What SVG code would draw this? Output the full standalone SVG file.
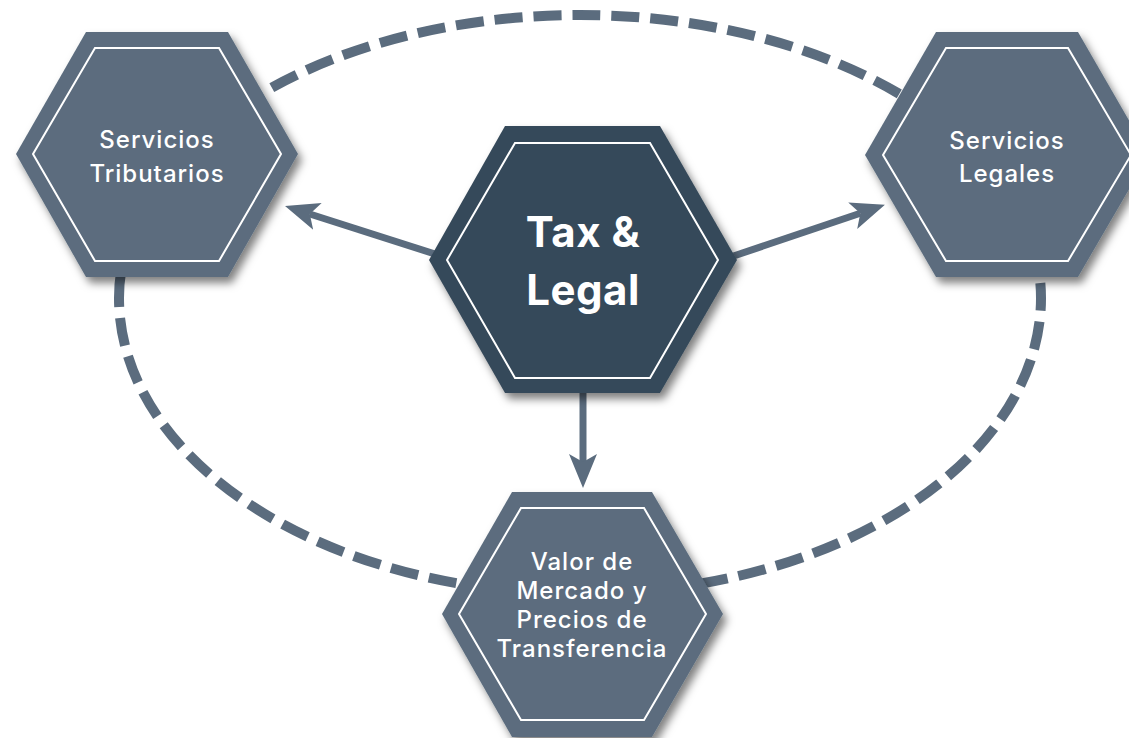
<svg xmlns="http://www.w3.org/2000/svg" width="1129" height="738" viewBox="0 0 1129 738">
  <defs>
    <filter id="shadow" x="-20%" y="-20%" width="140%" height="140%">
      <feDropShadow dx="4" dy="6" stdDeviation="4.5" flood-color="#000" flood-opacity="0.5"/>
    </filter>
    <marker id="arrow" viewBox="0 -15 35 30" refX="8" refY="0" markerWidth="35" markerHeight="30" markerUnits="userSpaceOnUse" orient="auto">
      <path d="M34 0 L0 -14 L8 0 L0 14 Z" fill="#5b6c7e"/>
    </marker>
    <style>
      .hex { fill: #5b6c7e; filter: url(#shadow); }
      .hex-dark { fill: #364a5a; filter: url(#shadow); }
      .inner { fill: none; stroke: #ffffff; stroke-width: 2; }
      .label { font-family: Inter, "Liberation Sans", sans-serif; font-weight: 500; font-size: 24px; letter-spacing: 1px; fill: #ffffff; text-anchor: middle; }
      .title { font-family: Inter, "Liberation Sans", sans-serif; font-weight: 700; font-size: 42px; letter-spacing: 0.5px; fill: #ffffff; text-anchor: middle; }
      .dash { fill: none; stroke: #5b6c7e; stroke-width: 10; stroke-dasharray: 28 11; }
      .arrow-line { fill: none; stroke: #5b6c7e; stroke-width: 7; marker-end: url(#arrow); }
    </style>
  </defs>
  <rect width="1129" height="738" fill="#ffffff"/>

  <g id="connectors">
    <path class="dash" d="M119 298 A461 283 0 0 1 1041 298 A461 296 0 0 1 119 298"/>
    <line class="arrow-line" x1="460" y1="262" x2="309.8" y2="214"/>
    <line class="arrow-line" x1="710" y1="264" x2="860.3" y2="213.2"/>
    <line class="arrow-line" x1="583" y1="380" x2="583" y2="462"/>
  </g>

  <g id="node-tributarios">
    <polygon class="hex" points="16,154 86,32 228,32 298,154 228,277 86,277"/>
    <polygon class="inner" points="33,154 95,48 219,48 281,154 219,261 95,261"/>
    <text class="label" x="157" y="148">Servicios</text>
    <text class="label" x="157" y="182">Tributarios</text>
  </g>

  <g id="node-legales">
    <polygon class="hex" points="865,155 936,32 1078,32 1149,155 1078,277 936,277"/>
    <polygon class="inner" points="883,155 946,48 1068,48 1131,155 1068,261 946,261"/>
    <text class="label" x="1007" y="149">Servicios</text>
    <text class="label" x="1007" y="182">Legales</text>
  </g>

  <g id="node-center">
    <polygon class="hex-dark" points="429,260 505,126 660,126 737,260 660,393 505,393"/>
    <polygon class="inner" points="447,260 515,143 650,143 718,260 650,378 515,378"/>
    <text class="title" x="583" y="247">Tax &amp;</text>
    <text class="title" x="583" y="305">Legal</text>
  </g>

  <g id="node-valor">
    <polygon class="hex" points="442,614 512,492 652,492 723,614 652,737 512,737"/>
    <polygon class="inner" points="459,614 521,508 644,508 706,614 644,720 521,720"/>
    <text class="label" x="582" y="569.5">Valor de</text>
    <text class="label" x="582" y="598.8">Mercado y</text>
    <text class="label" x="582" y="628.1">Precios de</text>
    <text class="label" x="582" y="657.4">Transferencia</text>
  </g>
</svg>
